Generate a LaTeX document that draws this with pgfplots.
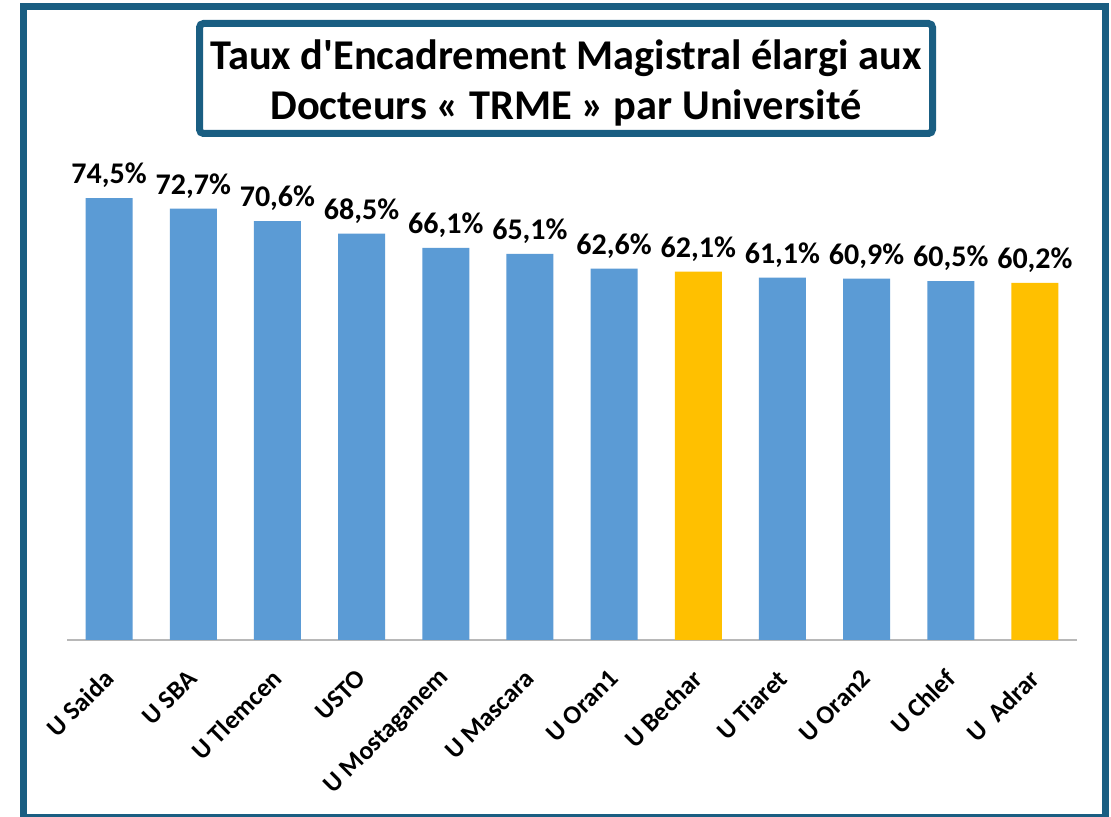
\documentclass[border=0pt]{standalone}
\usepackage{fontspec}
\setmainfont{Carlito}
\usepackage{pgfplots}
\pgfplotsset{compat=1.18}
\definecolor{frameblue}{RGB}{26,94,130}
\definecolor{barblue}{HTML}{5B9BD5}
\definecolor{bargold}{HTML}{FFC000}
\begin{document}
\begin{tikzpicture}
\useasboundingbox (0,0) rectangle (555.5pt,408.5pt);
\fill[white] (0,0) rectangle (555.5pt,408.5pt);
\draw[line width=3.5pt, color=frameblue] (11.75pt,-0.25pt) rectangle (552.75pt,405.25pt);
\draw[line width=3.5pt, color=frameblue, rounded corners=2pt] (99.75pt,341.75pt) rectangle (466.25pt,396.75pt);
\node[align=center, font=\fontsize{21.2}{25}\selectfont\bfseries, inner sep=0pt] at (283pt,367pt)
  {Taux d\textquotesingle Encadrement Magistral élargi aux\\Docteurs « TRME » par Université};
\begin{axis}[
  at={(33.5pt,88.5pt)}, anchor=south west,
  scale only axis, width=505pt, height=237.3pt,
  xmin=-0.5, xmax=11.5, ymin=0, ymax=80,
  hide y axis,
  axis x line*=bottom,
  x axis line style={-, color=black!28, line width=0.8pt},
  ybar, bar width=23.5pt,
  xtick={0,...,11},
  major tick length=0pt,
  xticklabels={U Saida, U SBA, U Tlemcen, USTO, U Mostaganem, U Mascara, U Oran1, U Bechar, U Tiaret, U Oran2, U Chlef, U\ \ Adrar},
  xticklabel style={xshift=0pt, yshift=-17pt, rotate=45, anchor=east, inner sep=0pt, font=\fontsize{13}{15}\selectfont\bfseries},
  /pgf/number format/assume math mode=true,
  nodes near coords={\pgfmathprintnumber[fixed, fixed zerofill, precision=1, use comma]{\pgfplotspointmeta}\%},
  every node near coord/.append style={font=\fontsize{15}{17}\selectfont\bfseries, inner sep=0pt, yshift=5pt, black},
  clip=false,
]
\addplot[draw=none, fill=barblue, bar shift=0pt] coordinates {
  (0,74.5) (1,72.7) (2,70.6) (3,68.5) (4,66.1) (5,65.1) (6,62.6) (8,61.1) (9,60.9) (10,60.5)
};
\addplot[draw=none, fill=bargold, bar shift=0pt] coordinates {
  (7,62.1) (11,60.2)
};
\end{axis}
\end{tikzpicture}
\end{document}
